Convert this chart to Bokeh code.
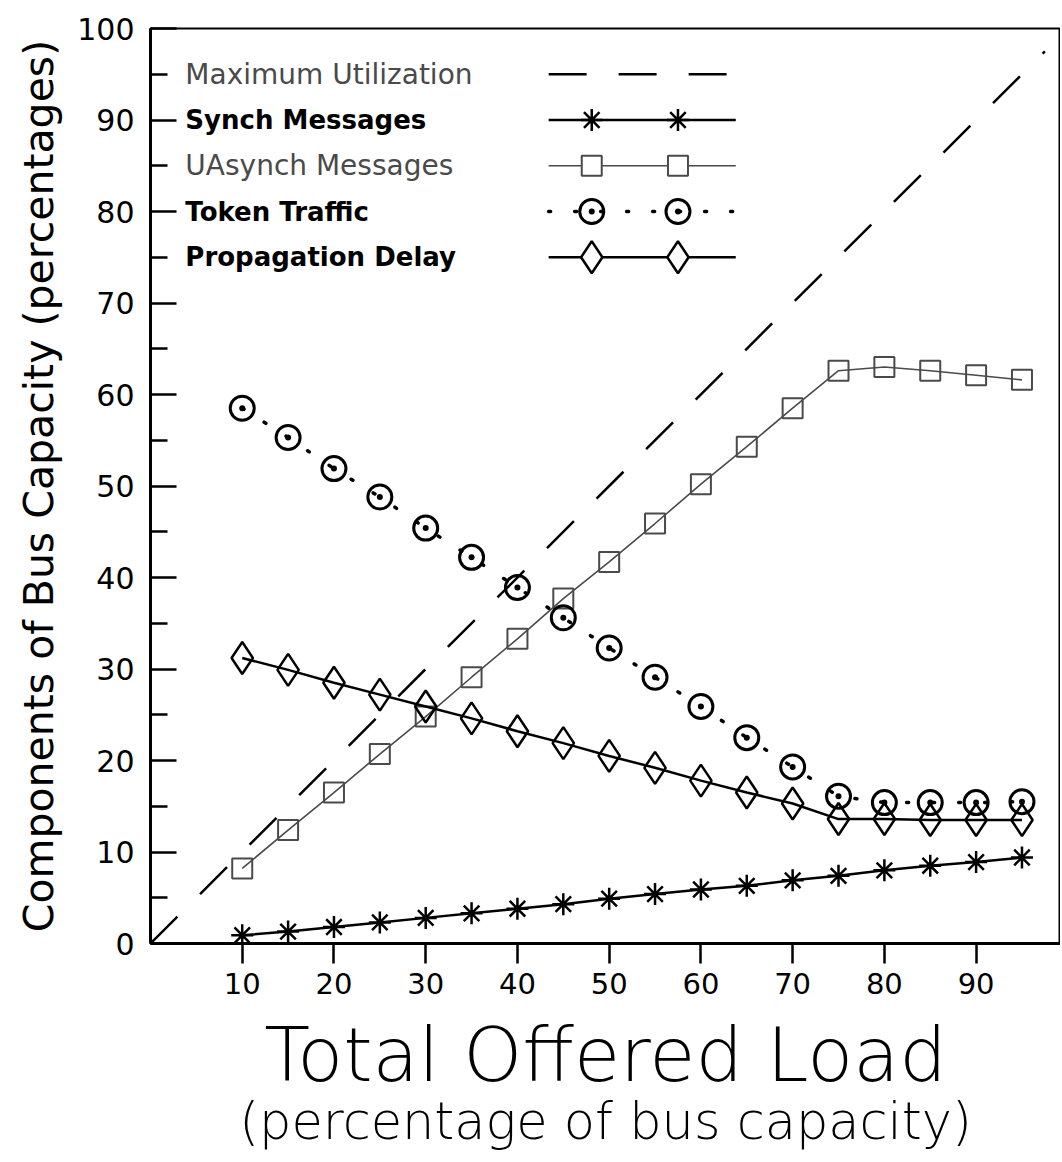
from bokeh.plotting import figure
from bokeh.models import FixedTicker, Label, Range1d, Title
from bokeh.embed import file_html
from bokeh.resources import INLINE

# ---------------- data ----------------
load = [10, 15, 20, 25, 30, 35, 40, 45, 50, 55, 60, 65, 70, 75, 80, 85, 90, 95]
synch = [0.9, 1.3, 1.8, 2.3, 2.8, 3.3, 3.8, 4.3, 4.9, 5.4, 5.9, 6.3, 6.9, 7.4, 8.0, 8.5, 8.9, 9.4]
uasynch = [8.2, 12.4, 16.5, 20.7, 24.8, 29.1, 33.3, 37.7, 41.7, 45.9, 50.2, 54.3, 58.5, 62.6, 63.0, 62.6, 62.1, 61.6]
token = [58.5, 55.3, 51.9, 48.8, 45.4, 42.2, 38.9, 35.6, 32.3, 29.1, 25.9, 22.5, 19.3, 16.1, 15.4, 15.4, 15.4, 15.5]
prop = [31.2, 29.9, 28.5, 27.2, 25.9, 24.6, 23.2, 21.9, 20.5, 19.2, 17.8, 16.5, 15.3, 13.6, 13.6, 13.5, 13.5, 13.5]
max_util_x = [0, 97.5]
max_util_y = [0, 97.5]

x_ticks = [10, 20, 30, 40, 50, 60, 70, 80, 90]
y_ticks = [0, 10, 20, 30, 40, 50, 60, 70, 80, 90, 100]
y_minor = [5, 15, 25, 35, 45, 55, 65, 75, 85, 95]

series_names = ["Maximum Utilization", "Synch Messages", "UAsynch Messages",
                "Token Traffic", "Propagation Delay"]
legend_rows = [95, 90, 85, 80, 75]

FONT = "DejaVu Sans"
LIGHT = "DejaVu Sans Light, DejaVu Sans"
GRAY = "#4a4a4a"

p = figure(width=1060, height=1160, x_range=Range1d(0, 99.2), y_range=Range1d(0, 100),
           output_backend="svg", toolbar_location=None, title=None,
           min_border_left=150, min_border_top=28, min_border_bottom=217, min_border_right=0)
p.grid.visible = False
p.outline_line_color = "black"
p.outline_line_width = 2
p.background_fill_color = "white"
p.border_fill_color = "white"

# axes
xa = p.xaxis[0]
xa.ticker = FixedTicker(ticks=x_ticks, minor_ticks=[])
xa.major_tick_in = 0
xa.major_tick_out = 20
xa.major_tick_line_width = 2.5
xa.axis_line_width = 3
xa.major_label_text_font = FONT
xa.major_label_text_font_size = "29px"
xa.major_label_text_color = "black"
xa.major_label_standoff = 9
xa.axis_label = "Total Offered Load"
xa.axis_label_text_font = LIGHT
xa.axis_label_text_font_size = "75px"
xa.axis_label_text_font_style = "normal"
xa.axis_label_text_color = "black"
xa.axis_label_text_line_height = 1.0
xa.axis_label_standoff = 14

ya = p.yaxis[0]
ya.ticker = FixedTicker(ticks=y_ticks, minor_ticks=y_minor)
ya.major_tick_in = 26
ya.major_tick_out = 0
ya.minor_tick_in = 17
ya.minor_tick_out = 0
ya.major_tick_line_width = 2.5
ya.minor_tick_line_width = 2.5
ya.axis_line_width = 3
ya.major_label_text_font = FONT
ya.major_label_text_font_size = "30px"
ya.major_label_text_color = "black"
ya.major_label_standoff = 16
ya.axis_label = "Components of Bus Capacity (percentages)"
ya.axis_label_text_font = FONT
ya.axis_label_text_font_size = "41px"
ya.axis_label_text_font_style = "normal"
ya.axis_label_text_color = "black"
ya.axis_label_standoff = 11

p.add_layout(Title(text="(percentage of bus capacity)", align="center", text_font=LIGHT,
                   text_font_size="51px", text_font_style="normal", text_color="black",
                   text_line_height=1.0, standoff=-24),
             "below")

# ---------------- series ----------------
p.line(max_util_x, max_util_y, line_color="black", line_width=2.5, line_dash="38 32")

p.line(load, synch, line_color="black", line_width=2.5)
p.scatter(load, synch, marker="asterisk", size=22, line_color="black", line_width=2.5)

p.line(load, uasynch, line_color=GRAY, line_width=1.6)
p.scatter(load, uasynch, marker="square", size=20, line_color=GRAY, line_width=2,
          fill_alpha=0)

p.line(load, token, line_color="black", line_width=3.5, line_dash="2 24", line_cap="round")
p.scatter(load, token, marker="circle_dot", size=24, line_color="black", line_width=3,
          fill_alpha=0)

p.line(load, prop, line_color="black", line_width=2.5)
p.scatter(load, prop, marker="diamond", size=32, line_color="black", line_width=2.5,
          fill_alpha=0)

# ---------------- legend ----------------
lx0, lx1 = 43.4, 63.8
mk = [48.1, 57.5]
styles = [("normal", GRAY, "28px"), ("bold", "black", "26px"), ("normal", GRAY, "28px"),
          ("bold", "black", "26px"), ("bold", "black", "26px")]
for name, yy, (fs, col, sz) in zip(series_names, legend_rows, styles):
    p.add_layout(Label(x=3.8, y=yy, text=name, text_align="left", text_baseline="middle",
                       text_font=FONT, text_font_size=sz, text_font_style=fs,
                       text_color=col))

p.line([lx0, lx1], [legend_rows[0]] * 2, line_color="black", line_width=2.5, line_dash="38 32")
p.line([lx0, lx1], [legend_rows[1]] * 2, line_color="black", line_width=2.5)
p.scatter(mk, [legend_rows[1]] * 2, marker="asterisk", size=22, line_color="black", line_width=2.5)
p.line([lx0, lx1], [legend_rows[2]] * 2, line_color=GRAY, line_width=1.6)
p.scatter(mk, [legend_rows[2]] * 2, marker="square", size=20, line_color=GRAY, line_width=2,
          fill_color="white")
p.line([lx0, lx1], [legend_rows[3]] * 2, line_color="black", line_width=3.5, line_dash="2 24",
       line_cap="round")
p.scatter(mk, [legend_rows[3]] * 2, marker="circle_dot", size=24, line_color="black",
          line_width=3, fill_alpha=0)
p.line([lx0, lx1], [legend_rows[4]] * 2, line_color="black", line_width=2.5)
p.scatter(mk, [legend_rows[4]] * 2, marker="diamond", size=32, line_color="black",
          line_width=2.5, fill_color="white")

open("out.html", "w").write(file_html(p, INLINE))
